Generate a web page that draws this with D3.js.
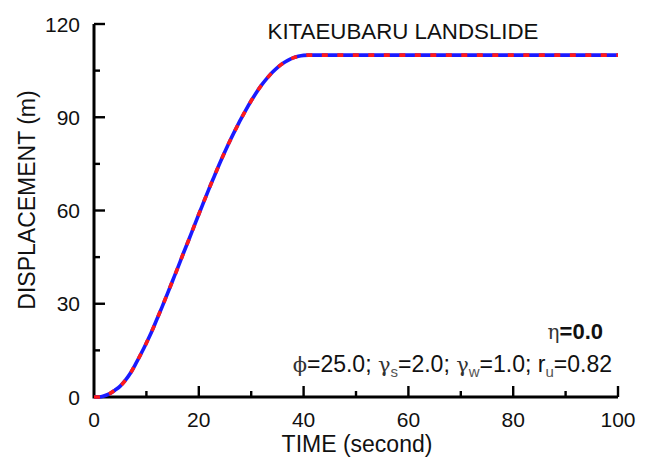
<!DOCTYPE html>
<html><head><meta charset="utf-8">
<script src="https://cdn.jsdelivr.net/npm/d3@7"></script>
<style>body{margin:0;background:#fff}svg text{font-family:"Liberation Sans",Arial,sans-serif;fill:#111}</style>
</head><body><svg id="c" width="649" height="460"></svg>
<script>
const timeSec = [0,1,2,3,4,5,6,7,8,9,10,11,12,13,14,15,16,17,18,19,20,21,22,23,24,25,26,27,28,29,30,31,32,33,34,35,36,37,38,39,40,41,50,60,70,80,90,100];
const displacement = [0,0,0.4,1.1,2.2,3.5,5.4,7.8,10.8,14,17.4,21,25,29,33.2,37.4,41.6,46,50.2,54.5,58.8,63,67.2,71.2,75.2,79,82.6,86,89.3,92.4,95.3,98,100.4,102.5,104.4,106,107.3,108.3,109.1,109.6,109.9,110,110,110,110,110,110,110];
const xTicks = [0,20,40,60,80,100];
const yTicks = [0,30,60,90,120];
const xMinor = [10,30,50,70,90];
const yMinor = [15,45,75,105];

const svg = d3.select("#c");
const x = d3.scaleLinear().domain([0,100]).range([94,618]);
const y = d3.scaleLinear().domain([0,120]).range([397,24]);

// ticks
svg.append("g").selectAll("rect").data(xTicks.slice(1)).enter().append("rect")
  .attr("x",d=>x(d)-1.2).attr("y",y(0)-11).attr("width",2.4).attr("height",11).attr("fill","#000");
svg.append("g").selectAll("rect").data(xMinor).enter().append("rect")
  .attr("x",d=>x(d)-1.2).attr("y",y(0)-6).attr("width",2.4).attr("height",6).attr("fill","#000");
svg.append("g").selectAll("rect").data(yTicks.slice(1)).enter().append("rect")
  .attr("x",x(0)).attr("y",d=>y(d)-1.2).attr("width",11).attr("height",2.4).attr("fill","#000");
svg.append("g").selectAll("rect").data(yMinor).enter().append("rect")
  .attr("x",x(0)).attr("y",d=>y(d)-1.2).attr("width",6).attr("height",2.4).attr("fill","#000");

// axis lines
svg.append("path").attr("d",`M${x(0)},${y(120)}V${y(0)}H${x(100)}`).attr("fill","none").attr("stroke","#000").attr("stroke-width",3);

svg.append("g").selectAll("text").data(xTicks).enter().append("text")
  .attr("x",d=>x(d)).attr("y",y(0)+30).attr("text-anchor","middle").attr("font-size",21).text(d=>d);
svg.append("g").selectAll("text").data(yTicks).enter().append("text")
  .attr("x",x(0)-14).attr("y",d=>y(d)+7.5).attr("text-anchor","end").attr("font-size",21).text(d=>d);

svg.append("text").attr("x",357).attr("y",452).attr("text-anchor","middle").attr("font-size",23).text("TIME (second)");
svg.append("text").attr("transform","translate(35,200) rotate(-90)").attr("text-anchor","middle").attr("font-size",23).text("DISPLACEMENT (m)");
svg.append("text").attr("x",403).attr("y",39).attr("text-anchor","middle").attr("font-size",22.3).text("KITAEUBARU LANDSLIDE");

// curve
const pts = timeSec.map((t,i)=>[t,displacement[i]]);
const line = d3.line().x(d=>x(d[0])).y(d=>y(d[1])).curve(d3.curveMonotoneX);
svg.append("path").attr("d",line(pts)).attr("fill","none").attr("stroke","#1a1aff").attr("stroke-width",3.6);
svg.append("path").attr("d",line(pts)).attr("fill","none").attr("stroke","#ff1a1a").attr("stroke-width",3.6).attr("stroke-dasharray","6,9.5");

// annotations
const a1 = svg.append("text").attr("x",603).attr("y",339).attr("text-anchor","end").attr("font-size",22);
a1.append("tspan").attr("font-family","DejaVu Serif").attr("font-size",20).attr("fill","#333").text("η");
a1.append("tspan").attr("font-weight","bold").text("=0.0");

const a2 = svg.append("text").attr("x",612).attr("y",372).attr("text-anchor","end").attr("font-size",23);
const parts = [["ϕ","sym"],["=25.0; ",""],["γ","sym"],["s","sub"],["=2.0; ",""],["γ","sym"],["w","sub"],["=1.0; r",""],["u","sub"],["=0.82",""]];
parts.forEach((p,i)=>{
  const ts = a2.append("tspan").text(p[0]);
  if(p[1]==="sym") ts.attr("font-family","DejaVu Serif").attr("font-size",21).attr("fill","#333");
  if(p[1]==="sub") ts.attr("font-size",15).attr("dy",5).attr("fill","#555");
  if(i>0 && parts[i-1][1]==="sub") ts.attr("dy",-5);
});
</script></body></html>
